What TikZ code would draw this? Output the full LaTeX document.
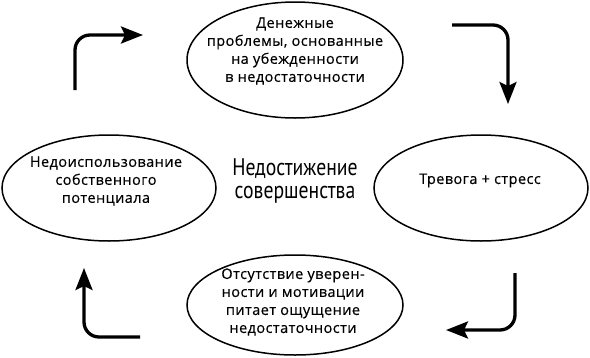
\documentclass[tikz,border=0pt]{standalone}
\usepackage{fontspec}
\setmainfont{Open Sans}[LetterSpace=3,FakeBold=0.4]
\newfontfamily\condfont{PT Sans}[FakeStretch=0.82]
\usetikzlibrary{shapes.geometric,arrows.meta}
\begin{document}
\begin{tikzpicture}[x=1pt,y=-1pt,
  oval/.style={draw,ellipse,line width=1.5pt,inner sep=0pt},
  ovaltext/.style={align=center,inner sep=0pt,font=\fontsize{14.5}{18}\selectfont},
  flow/.style={line width=3.3pt,rounded corners=15pt,-{Stealth[length=22pt,width=17pt,inset=4pt]}}]
\useasboundingbox (0,0) rectangle (590,357);
\node[oval,minimum width=216pt,minimum height=116pt] (top) at (295,60) {};
\node[ovaltext] (toptext) at (295,51) {Денежные\\проблемы, основанные\\на убежденности\\в недостаточности};
\node[oval,minimum width=214pt,minimum height=106pt] (left) at (109,188) {};
\node[ovaltext] (lefttext) at (106,181) {Недоиспользование\\собственного\\потенциала};
\node[oval,minimum width=214pt,minimum height=106pt] (right) at (481,188) {};
\node[ovaltext] (righttext) at (480,180.5) {Тревога + стресс};
\node[oval,minimum width=216pt,minimum height=100pt] (bottom) at (295,305) {};
\node[ovaltext] (bottomtext) at (293,302) {Отсутствие уверен-\\ности и мотивации\\питает ощущение\\недостаточности};
\node[align=center,inner sep=0pt,font=\condfont\fontsize{24}{23}\selectfont] (center) at (295,180.5) {Недостижение\\совершенства};
\coordinate (a1s) at (75,90);
\coordinate (a1c) at (75,35);
\coordinate (a1e) at (143,35);
\draw[flow] (a1s) -- (a1c) -- (a1e);
\coordinate (a2s) at (452,25);
\coordinate (a2c) at (508,25);
\coordinate (a2e) at (508,104);
\draw[flow] (a2s) -- (a2c) -- (a2e);
\coordinate (a3s) at (515,273);
\coordinate (a3c) at (515,330);
\coordinate (a3e) at (446,330);
\draw[flow] (a3s) -- (a3c) -- (a3e);
\coordinate (a4s) at (140,337);
\coordinate (a4c) at (84,337);
\coordinate (a4e) at (84,268);
\draw[flow] (a4s) -- (a4c) -- (a4e);
\end{tikzpicture}
\end{document}
